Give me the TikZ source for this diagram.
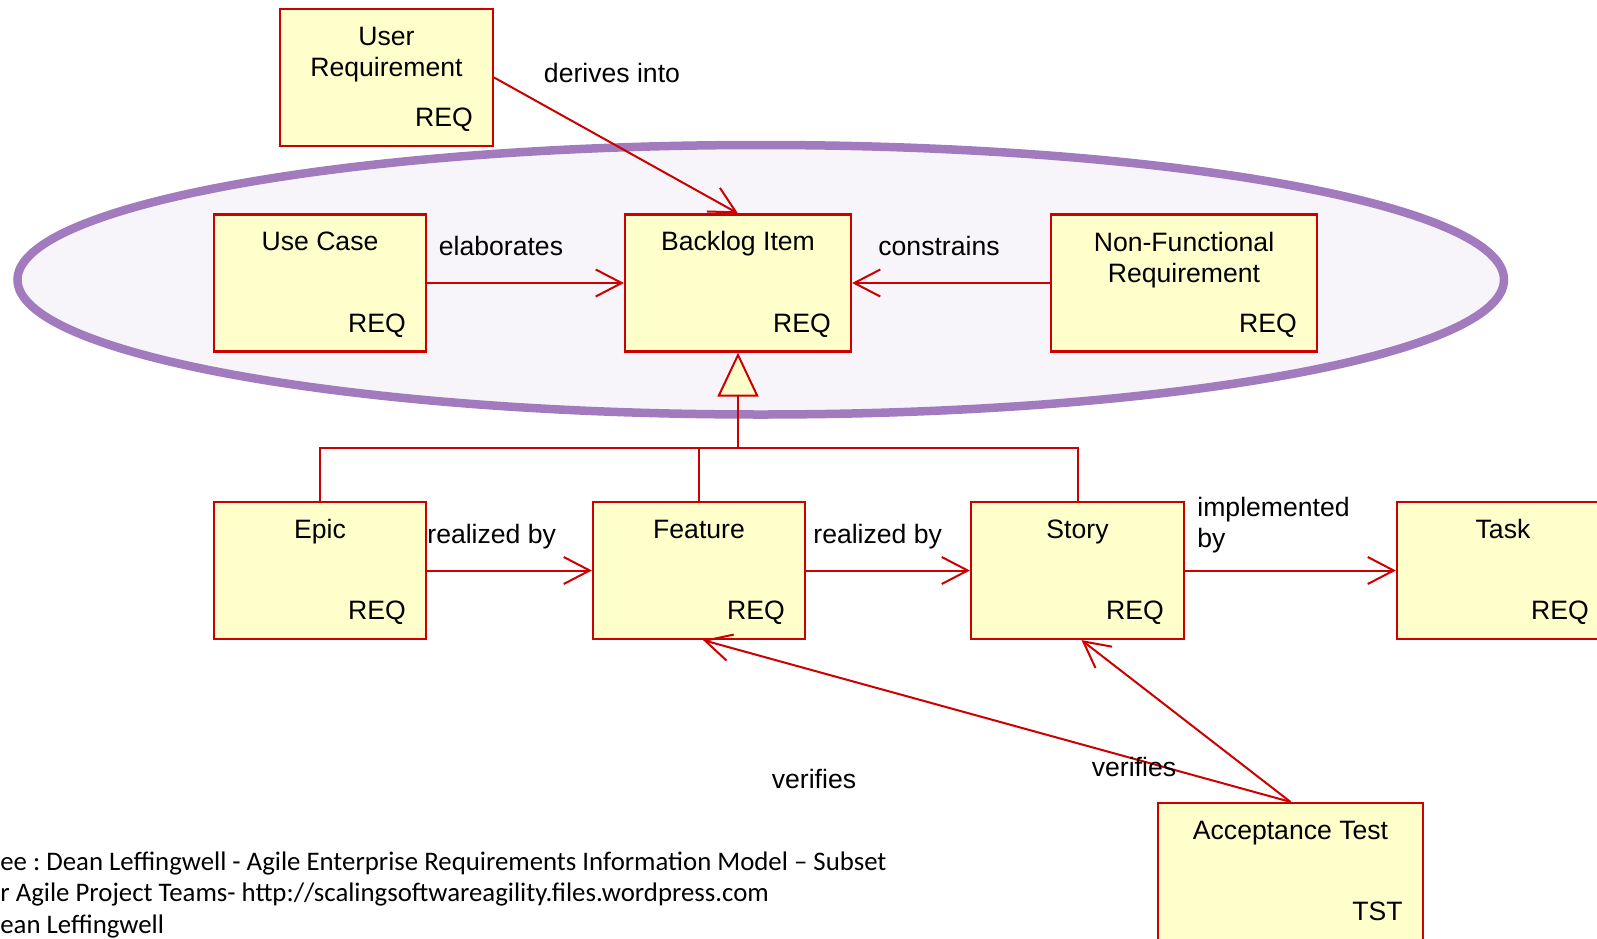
\documentclass[tikz,border=0pt]{standalone}
\usepackage{fontspec}
\setmainfont{Liberation Sans}
\newfontfamily\notefont{Carlito}
\usetikzlibrary{arrows.meta,calc}
\frenchspacing

\definecolor{linered}{RGB}{204,0,0}
\definecolor{boxfill}{RGB}{255,255,204}
\definecolor{ringpurple}{RGB}{162,123,190}
\definecolor{ringfill}{RGB}{247,245,249}

\tikzset{
  reqbox/.style={draw=linered, fill=boxfill, line width=1.1pt, rectangle,
    inner sep=0pt, minimum width=106pt, minimum height=68.5pt},
  ttl/.style={font=\fontsize{13.3}{15.5}\selectfont, align=center, inner sep=0pt, anchor=base},
  tag/.style={font=\fontsize{13.3}{15.5}\selectfont, anchor=base east, inner sep=0pt},
  lbl/.style={font=\fontsize{13.3}{15.5}\selectfont, inner sep=0pt},
  link/.style={draw=linered, line width=1pt},
  arr/.style={link, -{Straight Barb[length=13pt,width=13.5pt]}},
  gen/.style={link, -{Triangle[length=22pt,width=20.5pt,fill=boxfill]}},
}

\begin{document}
\begin{tikzpicture}[x=0.5pt,y=-0.5pt]
  \useasboundingbox (0,0) rectangle (1597,938);
  \clip (0,0) rectangle (1597,938);

  % grouping ring around the backlog items
  \draw[ringpurple, fill=ringfill, line width=4.25pt]
    (760.75,279.75) ellipse [x radius=743.25, y radius=134.75];

  % requirement boxes
  \node[reqbox, minimum width=106.5pt] (ur) at (386.5,77.5) {};
  \node[reqbox] (uc) at (320,283) {};
  \node[reqbox, minimum width=113pt] (bl) at (738,283) {};
  \node[reqbox, minimum width=133pt] (nfr) at (1184,283) {};
  \node[reqbox] (epic) at (320,570.5) {};
  \node[reqbox] (feat) at (699,570.5) {};
  \node[reqbox, minimum width=106.5pt] (story) at (1077.5,570.5) {};
  \node[reqbox] (task) at (1503,570.5) {};
  \node[reqbox, minimum width=132.5pt] (at) at (1290.5,871.5) {};

  % box titles (base anchor sits on the last line)
  \node[ttl] at ([yshift=-34.5pt]ur.north) {User\\Requirement};
  \node[ttl] at ([yshift=-18.7pt]uc.north) {Use Case};
  \node[ttl] at ([yshift=-18.7pt]bl.north) {Backlog Item};
  \node[ttl] at ([yshift=-34.3pt]nfr.north) {Non-Functional\\Requirement};
  \node[ttl] at ([yshift=-18.7pt]epic.north) {Epic};
  \node[ttl] at ([yshift=-18.7pt]feat.north) {Feature};
  \node[ttl] at ([yshift=-18.7pt]story.north) {Story};
  \node[ttl] at ([yshift=-18.7pt]task.north) {Task};
  \node[ttl] at ([yshift=-18.7pt]at.north) {Acceptance Test};

  % stereotype tags
  \foreach \b in {ur,uc,bl,nfr,epic,feat,story,task}
    \node[tag] at ([xshift=-10.5pt,yshift=10.3pt]\b.south east) {REQ};
  \node[tag] at ([xshift=-10.5pt,yshift=10.3pt]at.south east) {TST};

  % associations
  \draw[arr] (ur.east) -- (bl.north);
  \draw[arr] (uc.east) -- (bl.west);
  \draw[arr] (nfr.west) -- (bl.east);
  \draw[arr] (epic.east) -- (feat.west);
  \draw[arr] (feat.east) -- (story.west);
  \draw[arr] (story.east) -- (task.west);
  \draw[arr] (at.north) -- ([xshift=2pt]feat.south);
  \draw[arr] (at.north) -- ([xshift=2pt]story.south);

  % generalisation tree
  \coordinate (hub) at (738,448);
  \draw[gen] (hub) -- (bl.south);
  \draw[link] (epic.north) -- (epic.north |- hub) -- (story.north |- hub) -- (story.north);
  \draw[link] (feat.north) -- (feat.north |- hub);

  % association labels
  \node[lbl] at (612,73) {derives into};
  \node[lbl] at (501,246) {elaborates};
  \node[lbl] at (939,246) {constrains};
  \node[lbl, anchor=west] at (427,537) {realized by};
  \node[lbl, anchor=west] at (813,537) {realized by};
  \node[lbl, anchor=west, align=left] at (1197,525) {implemented\\by};
  \node[lbl] at (814,779) {verifies};
  \node[lbl] at (1134,767) {verifies};

  % source note
  \node[font=\notefont\fontsize{13.4}{15.8}\selectfont, anchor=north west,
        align=left, inner sep=0pt] (note) at (0,851)
    {ee : Dean Leffingwell - Agile Enterprise Requirements Information Model – Subset\\
     r Agile Project Teams- http://scalingsoftwareagility.files.wordpress.com\\
     ean Leffingwell};
\end{tikzpicture}
\end{document}
